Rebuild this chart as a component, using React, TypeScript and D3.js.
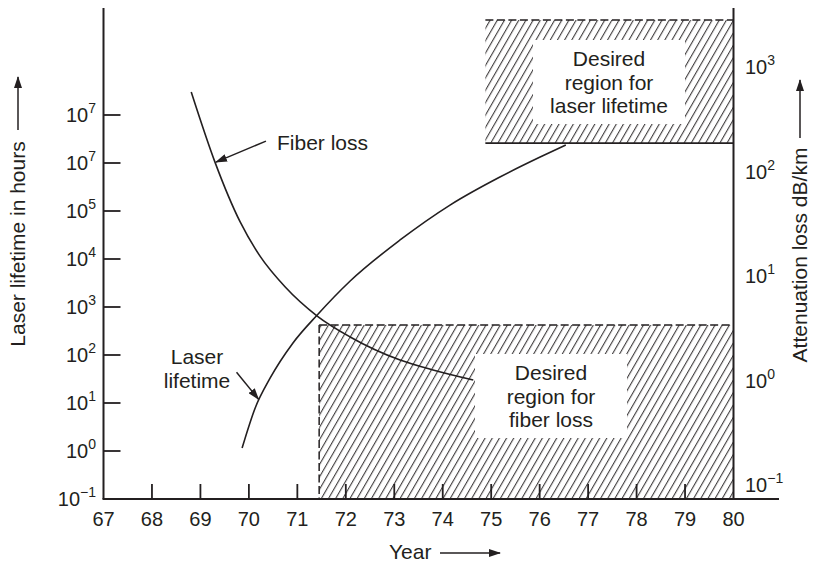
import React from 'react';
import * as d3 from 'd3';

// axis ticks
const yearTicks = [67, 68, 69, 70, 71, 72, 73, 74, 75, 76, 77, 78, 79, 80];
const leftTickValues = [0.1, 1, 10, 100, 1e3, 1e4, 1e5, 1e6, 1e7];
const leftTickExponents = ['\u22121', '0', '1', '2', '3', '4', '5', '7', '7'];
const rightTickValues = [0.1, 1, 10, 100, 1000];
const rightTickExponents = ['\u22121', '0', '1', '2', '3'];

// laser lifetime (hours, left axis)
const laserYears = [69.86, 70.13, 70.44, 70.91, 71.41, 72.09, 73.12, 74.15, 75.18, 76.01, 76.54];
const laserHours = [1.15, 7.87, 33.2, 178, 681, 3480, 24900, 133000, 511000, 1.33e6, 2.37e6];

// fiber loss (dB/km, right axis)
const fiberYears = [68.81, 69.3, 69.82, 70.23, 70.75, 71.41, 72.09, 73.12, 73.8, 74.63];
const fiberLoss = [577, 123, 32.9, 15.5, 7.85, 4.14, 2.61, 1.57, 1.26, 1.01];

// desired regions
const laserRegion = { yearFrom: 74.88, yearTo: 80, hoursFrom: 2.6e6, hoursTo: 9.5e8 };
const fiberRegion = { yearFrom: 71.45, yearTo: 80, lossTo: 3.4 };

// where the callout arrows touch the curves
const fiberCalloutYear = 69.3;
const laserCalloutYear = 70.22;

const W = 813;
const H = 564;
const ink = '#231f20';
const font = '"Liberation Sans", Arial, Helvetica, sans-serif';

// log-linear lookup along a series
function logAt(years: number[], vals: number[], yr: number) {
  const i = Math.max(1, d3.bisectLeft(years, yr));
  const t = (yr - years[i - 1]) / (years[i] - years[i - 1]);
  return Math.pow(10, Math.log10(vals[i - 1]) * (1 - t) + Math.log10(vals[i]) * t);
}

export default function App() {
  const x = d3.scaleLinear().domain([67, 80]).range([103.5, 733.5]);
  const yL = d3.scaleLog().domain([0.1, 1e7]).range([499, 115]);
  const yR = d3.scaleLog().domain([0.1, 1000]).range([485, 67]);
  const bottom = yL(0.1);
  const top = 8;

  const line = d3.line<[number, number]>().curve(d3.curveMonotoneX);
  const laserPath = line(laserYears.map((yr, i) => [x(yr), yL(laserHours[i])]));
  const fiberPath = line(fiberYears.map((yr, i) => [x(yr), yR(fiberLoss[i])]));

  const lr = {
    x0: x(laserRegion.yearFrom), x1: x(laserRegion.yearTo),
    y0: yL(laserRegion.hoursTo), y1: yL(laserRegion.hoursFrom),
  };
  const fr = {
    x0: x(fiberRegion.yearFrom), x1: x(fiberRegion.yearTo),
    y0: yR(fiberRegion.lossTo), y1: bottom,
  };

  const fiberTip = [x(fiberCalloutYear), yR(logAt(fiberYears, fiberLoss, fiberCalloutYear))];
  const laserTip = [x(laserCalloutYear), yL(logAt(laserYears, laserHours, laserCalloutYear))];

  const textBlock = (cx: number, firstBase: number, lines: string[]) => (
    <g>
      <rect x={cx - 76} y={firstBase - 26} width={152} height={84} fill="#fff" />
      {lines.map((t, i) => (
        <text key={i} x={cx} y={firstBase + i * 23.5} textAnchor="middle">{t}</text>
      ))}
    </g>
  );

  return (
    <svg width={W} height={H} style={{ position: 'absolute', left: 0, top: 0, background: '#fff' }}
      fontFamily={font} fontSize={21} fill={ink}>
      <defs>
        <pattern id="hatch" patternUnits="userSpaceOnUse" width={6.2} height={6.2}
          patternTransform="rotate(30)">
          <line x1={0.6} y1={-1} x2={0.6} y2={8} stroke={ink} strokeWidth={0.95} />
        </pattern>
        <marker id="ah" viewBox="0 0 12 8" refX={11} refY={4} markerWidth={12} markerHeight={8}
          orient="auto" markerUnits="userSpaceOnUse">
          <path d="M0,0 L12,4 L0,8 z" fill={ink} />
        </marker>
      </defs>

      {/* hatched regions */}
      <rect x={lr.x0} y={lr.y0} width={lr.x1 - lr.x0} height={lr.y1 - lr.y0} fill="url(#hatch)" />
      <rect x={fr.x0} y={fr.y0} width={fr.x1 - fr.x0} height={fr.y1 - fr.y0} fill="url(#hatch)" />
      <line x1={lr.x0} x2={lr.x1} y1={lr.y0} y2={lr.y0} stroke={ink} strokeWidth={1.5} strokeDasharray="8 3.5" />
      <line x1={lr.x0} x2={lr.x1} y1={lr.y1} y2={lr.y1} stroke={ink} strokeWidth={1.8} />
      <line x1={fr.x0} x2={fr.x1} y1={fr.y0} y2={fr.y0} stroke={ink} strokeWidth={1.5} strokeDasharray="8 3.5" />
      <line x1={fr.x0} x2={fr.x0} y1={fr.y0} y2={fr.y1} stroke={ink} strokeWidth={1.5} strokeDasharray="8 3.5" />

      {textBlock(609, 66, ['Desired', 'region for', 'laser lifetime'])}
      {textBlock(551, 380, ['Desired', 'region for', 'fiber loss'])}

      {/* axes */}
      <line x1={x(67)} x2={x(67)} y1={top} y2={bottom} stroke={ink} strokeWidth={2} />
      <line x1={x(80)} x2={x(80)} y1={top} y2={bottom} stroke={ink} strokeWidth={2} />
      <line x1={x(67) - 1} x2={779} y1={bottom} y2={bottom} stroke={ink} strokeWidth={2} />

      {yearTicks.map((yr) => (
        <g key={yr}>
          {yr > 67 && yr < 80 && (
            <line x1={x(yr)} x2={x(yr)} y1={bottom} y2={bottom - 15} stroke={ink} strokeWidth={1.8} />
          )}
          <text x={x(yr)} y={526} textAnchor="middle" fontSize={20}>{yr}</text>
        </g>
      ))}

      {leftTickValues.map((v, i) => (
        <g key={i}>
          {i > 0 && (
            <line x1={x(67)} x2={x(67) + 17} y1={yL(v)} y2={yL(v)} stroke={ink} strokeWidth={1.8} />
          )}
          <text x={96} y={yL(v) + 7} textAnchor="end" fontSize={20}>
            <tspan>10</tspan>
            <tspan dy={-9} fontSize={14}>{leftTickExponents[i]}</tspan>
          </text>
        </g>
      ))}

      {rightTickValues.map((v, i) => (
        <text key={i} x={745} y={yR(v) + 7} fontSize={20}>
          <tspan>10</tspan>
          <tspan dy={-9} fontSize={14}>{rightTickExponents[i]}</tspan>
        </text>
      ))}

      {/* curves */}
      <path d={fiberPath ?? ''} fill="none" stroke={ink} strokeWidth={1.6} />
      <path d={laserPath ?? ''} fill="none" stroke={ink} strokeWidth={1.6} />

      {/* annotations */}
      <text x={277} y={150}>Fiber loss</text>
      <line x1={fiberTip[0] + 51} y1={fiberTip[1] - 21} x2={fiberTip[0] + 1} y2={fiberTip[1]}
        stroke={ink} strokeWidth={1.5} markerEnd="url(#ah)" />
      <text x={197} y={364} textAnchor="middle">Laser</text>
      <text x={197} y={388} textAnchor="middle">lifetime</text>
      <line x1={laserTip[0] - 23} y1={laserTip[1] - 27} x2={laserTip[0] - 1} y2={laserTip[1]}
        stroke={ink} strokeWidth={1.5} markerEnd="url(#ah)" />

      {/* axis titles */}
      <text x={389} y={559}>Year</text>
      <line x1={440} x2={500} y1={553} y2={553} stroke={ink} strokeWidth={1.5} markerEnd="url(#ah)" />

      <text transform="translate(25,244) rotate(-90)" textAnchor="middle">Laser lifetime in hours</text>
      <line x1={18} x2={18} y1={130} y2={77} stroke={ink} strokeWidth={1.5} markerEnd="url(#ah)" />

      <text transform="translate(807,255) rotate(-90)" textAnchor="middle">Attenuation loss dB/km</text>
      <line x1={800} x2={800} y1={138} y2={80} stroke={ink} strokeWidth={1.5} markerEnd="url(#ah)" />
    </svg>
  );
}
